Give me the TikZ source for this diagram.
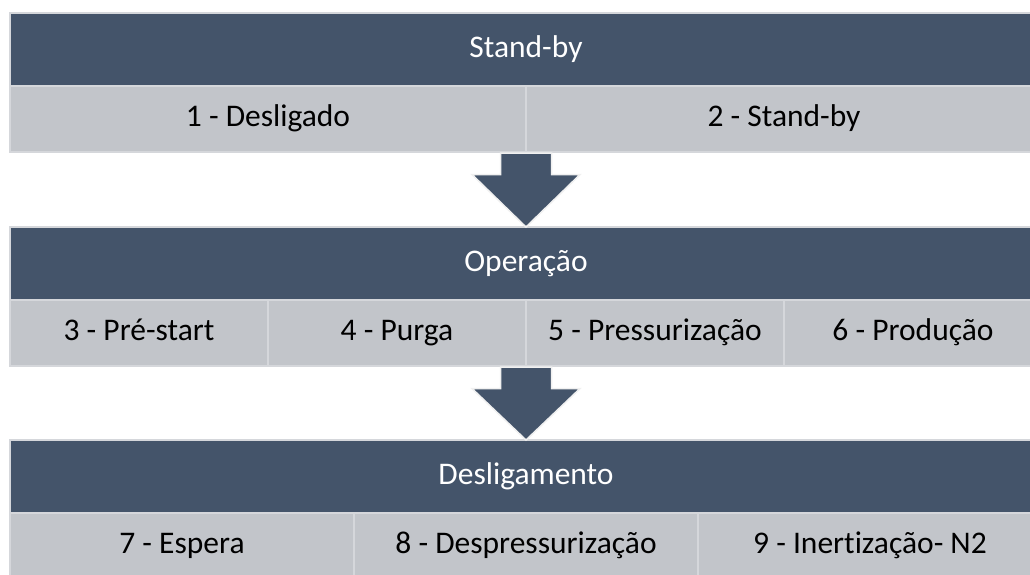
\documentclass[tikz,border=0pt]{standalone}
\usepackage{fontspec}
\setmainfont{Carlito}[Ligatures={NoCommon}]
\usetikzlibrary{calc}
\definecolor{slate}{HTML}{44546A}
\definecolor{cellgray}{HTML}{C2C5CA}
\definecolor{edgegray}{HTML}{D5D7DB}
\tikzset{
  header/.style={fill=slate,draw=edgegray,line width=2pt,text=white,
    minimum height=73pt,inner sep=0pt,outer sep=0pt,text height=22pt,text depth=6.5pt,
    font=\fontsize{31.5}{37}\selectfont},
  cell/.style={fill=cellgray,draw=edgegray,line width=2pt,text=black,
    minimum height=66pt,inner sep=0pt,outer sep=0pt,text height=22pt,text depth=6.5pt,
    font=\fontsize{31.5}{37}\selectfont},
  blockarrow/.style={fill=slate,draw=white!88!gray,line width=1.5pt,line join=miter}
}

\begin{document}
\begin{tikzpicture}[x=1pt,y=-1pt]
      \useasboundingbox[fill=white] (0,0) rectangle (1030,574);

      % Stand-by
      \node[header,minimum width=1032pt] (h1) at (526,49.5) {Stand-by};
      \node[cell,minimum width=516pt] (c11) at (268,119) {1 - Desligado};
      \node[cell,minimum width=516pt] (c12) at (784,119) {2 - Stand-by};

      % Operacao
      \node[header,minimum width=1032pt] (h2) at (526,263.5) {Operação};
      \foreach \i/\x/\t in {1/139/3 - Pré-start,2/397/4 - Purga,3/655/5 - Pressurização,4/913/6 - Produção}
        \node[cell,minimum width=258pt] (c2\i) at (\x,333) {\t};

      % Desligamento
      \node[header,minimum width=1032pt] (h3) at (526,476.5) {Desligamento};
      \foreach \i/\x/\t in {1/182/7 - Espera,2/526/8 - Despressurização,3/870/9 - Inertização- N2}
        \node[cell,minimum width=344pt] (c3\i) at (\x,546) {\t};

      % block arrows
      \foreach \from/\to in {c11.south east/h2.north,c22.south east/h3.north}
        \draw[blockarrow] let \p1=($(\from)+(0,1)$), \p2=(\to) in
          (\x1-25.5pt,\y1) -- (\x1+25.5pt,\y1) -- (\x1+25.5pt,\y1-21.5pt)
          -- (\x1+54pt,\y1-21.5pt) -- (\x1,\y2) -- (\x1-54pt,\y1-21.5pt)
          -- (\x1-25.5pt,\y1-21.5pt) -- cycle;
    \end{tikzpicture}
\end{document}
